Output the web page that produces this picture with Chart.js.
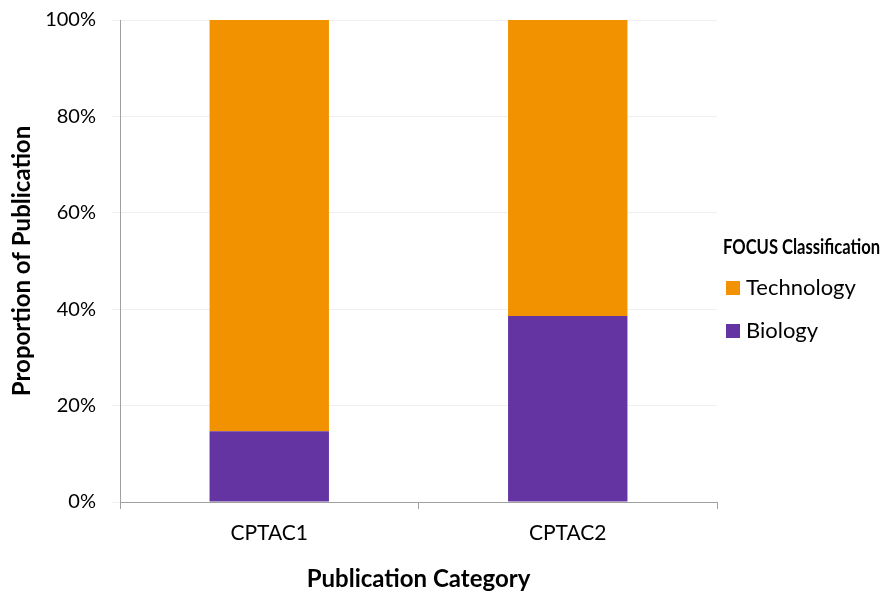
<!DOCTYPE html>
<html>
<head>
<meta charset="utf-8">
<script src="https://cdn.jsdelivr.net/npm/chart.js@4/dist/chart.umd.min.js"></script>
<style>
  html, body { margin: 0; padding: 0; background: #fff; }
  #wrap { width: 883px; height: 594px; position: relative; }
</style>
</head>
<body>
<div id="wrap"><canvas id="c" width="883" height="594"></canvas></div>
<script>
const categories = ['CPTAC1', 'CPTAC2'];
const biology = [14.7, 38.6];
const technology = [85.3, 61.4];
const yTicks = [0, 20, 40, 60, 80, 100];
const seriesNames = ['Biology', 'Technology'];
const legendTitle = 'FOCUS Classification';
const xTitle = 'Publication Category';
const yTitle = 'Proportion of Publication';

const FONT = 'Lato, "Open Sans", sans-serif';
const ORANGE = '#F39200';
const PURPLE = '#6435A2';

const legendPlugin = {
  id: 'sideLegend',
  afterDraw(chart) {
    const ctx = chart.ctx;
    ctx.save();
    ctx.fillStyle = '#000';
    ctx.textBaseline = 'middle';
    ctx.textAlign = 'left';
    ctx.font = 'bold 21px ' + FONT;
    ctx.fillText(legendTitle, 723, 247, 157);
    const ds = chart.data.datasets.slice().reverse();
    ds.forEach((d, i) => {
      const y = 288 + i * 43;
      ctx.fillStyle = d.backgroundColor;
      ctx.fillRect(726, y - 7, 14, 14);
      ctx.fillStyle = '#000';
      ctx.font = '22px ' + FONT;
      ctx.fillText(d.label, 746, y);
    });
    ctx.restore();
  }
};

new Chart(document.getElementById('c'), {
  type: 'bar',
  data: {
    labels: categories,
    datasets: [
      { label: seriesNames[0], data: biology, backgroundColor: PURPLE, barPercentage: 0.4, categoryPercentage: 1.0 },
      { label: seriesNames[1], data: technology, backgroundColor: ORANGE, barPercentage: 0.4, categoryPercentage: 1.0 }
    ]
  },
  options: {
    responsive: false,
    animation: false,
    layout: { padding: { top: 20, right: 166, bottom: 0, left: 0 } },
    plugins: {
      legend: { display: false },
      tooltip: { enabled: false }
    },
    scales: {
      x: {
        stacked: true,
        grid: { display: true, offset: true, drawOnChartArea: false, drawTicks: true, tickLength: 7, color: '#a0a0a0' },
        border: { display: true, color: '#a0a0a0', width: 1 },
        ticks: { color: '#000', font: { family: FONT, size: 21 }, padding: 12 },
        title: { display: true, text: xTitle, color: '#000', font: { family: FONT, size: 24, weight: 'bold' }, padding: { top: 0, bottom: 0 } },
        afterFit(s) { s.height = 92; s.paddingLeft = 0; s.paddingRight = 0; }
      },
      y: {
        stacked: true,
        min: 0,
        max: 100,
        afterBuildTicks(s) { s.ticks = yTicks.map(v => ({ value: v })); },
        grid: { color: '#efefef', drawTicks: true, tickLength: 8, lineWidth: 1 },
        border: { display: true, color: '#a0a0a0', width: 1 },
        ticks: { color: '#000', font: { family: FONT, size: 20 }, padding: 16, callback: v => v + '%' },
        title: { display: true, text: yTitle, color: '#000', font: { family: FONT, size: 24, weight: 'bold' }, padding: { top: 8, bottom: 0 } },
        afterFit(s) { s.width = 120; s.paddingTop = 0; s.paddingBottom = 0; }
      }
    }
  },
  plugins: [legendPlugin]
});
</script>
</body>
</html>
